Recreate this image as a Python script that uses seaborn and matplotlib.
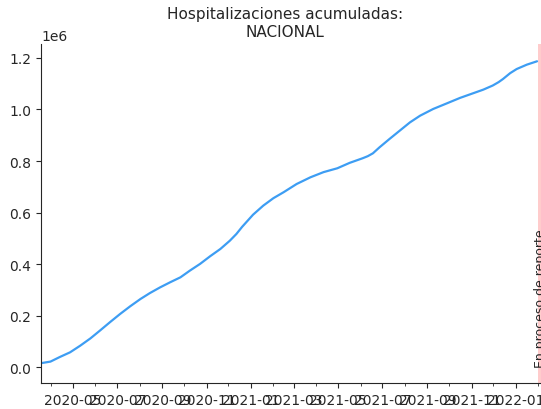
import pandas as pd
import numpy as np
import matplotlib
matplotlib.use('Agg')
import matplotlib.pyplot as plt
import matplotlib.dates as mdates
import seaborn as sns

# Valores (hospitalizaciones acumuladas, nacional)
fechas = ['2020-03-17', '2020-03-31', '2020-04-13', '2020-04-27', '2020-05-11',
          '2020-05-25', '2020-06-07', '2020-06-21', '2020-07-05', '2020-07-19',
          '2020-08-02', '2020-08-15', '2020-08-29', '2020-09-12', '2020-09-26',
          '2020-10-09', '2020-10-23', '2020-11-06', '2020-11-20', '2020-12-03',
          '2020-12-12', '2020-12-20', '2021-01-04', '2021-01-18', '2021-02-01',
          '2021-02-15', '2021-03-05', '2021-03-24', '2021-04-11', '2021-04-30',
          '2021-05-17', '2021-06-04', '2021-06-11', '2021-06-18', '2021-06-27',
          '2021-07-11', '2021-07-25', '2021-08-08', '2021-08-22', '2021-09-09',
          '2021-09-28', '2021-10-16', '2021-11-03', '2021-11-17', '2021-11-30',
          '2021-12-08', '2021-12-14', '2021-12-24', '2022-01-02', '2022-01-16',
          '2022-01-30']
acumuladas = [15500, 22000, 40000, 58000, 83800,
              112000, 142000, 175000, 207000, 237000,
              265000, 288000, 310000, 330000, 349000,
              375000, 401000, 431000, 459000, 491000,
              517000, 545000, 592000, 627000, 656000,
              679000, 711000, 737000, 757000, 772000,
              793000, 811000, 819000, 830000, 853000,
              886000, 918000, 950000, 976000, 1002000,
              1024000, 1045000, 1063000, 1077000, 1093000,
              1106000, 1118000, 1141000, 1157000, 1174000,
              1187000]

inicio_reporte = '2022-01-31'
fin_grafico = '2022-02-14'
inicio_grafico = '2020-03-18'

df = pd.DataFrame({'fecha': pd.to_datetime(fechas), 'hospitalizaciones': acumuladas})

sns.set_style('white')
fig = plt.figure(figsize=(5.41, 4.10), dpi=100)
ax = fig.add_axes([0.0758, 0.0634, 0.937, 0.8268])

sns.lineplot(data=df, x='fecha', y='hospitalizaciones', color='#3d9df3', linewidth=1.6, ax=ax)

ax.axvspan(pd.Timestamp(inicio_reporte), pd.Timestamp(fin_grafico), color='red', alpha=0.2, linewidth=0)
ax.text(pd.Timestamp('2022-02-04'), 0, 'En proceso de reporte', rotation=90,
        ha='center', va='bottom', fontsize=9)

ax.set_xlim(pd.Timestamp(inicio_grafico), pd.Timestamp(fin_grafico))
ax.set_ylim(-61000, 1254000)
ax.xaxis.set_major_locator(mdates.MonthLocator(bymonth=[1, 3, 5, 7, 9, 11]))
ax.xaxis.set_minor_locator(mdates.MonthLocator())
ax.xaxis.set_major_formatter(mdates.DateFormatter('%Y-%m'))
ax.tick_params(axis='both', which='major', labelsize=10, length=3.5, bottom=True, left=True)
ax.tick_params(axis='x', which='minor', length=2, bottom=True)
ax.yaxis.get_offset_text().set_fontsize(10)
ax.set_xlabel('')
ax.set_ylabel('')
ax.set_title('Hospitalizaciones acumuladas:\nNACIONAL', fontsize=11, x=0.481)
sns.despine(ax=ax)

fig.savefig('out.png', dpi=100)
